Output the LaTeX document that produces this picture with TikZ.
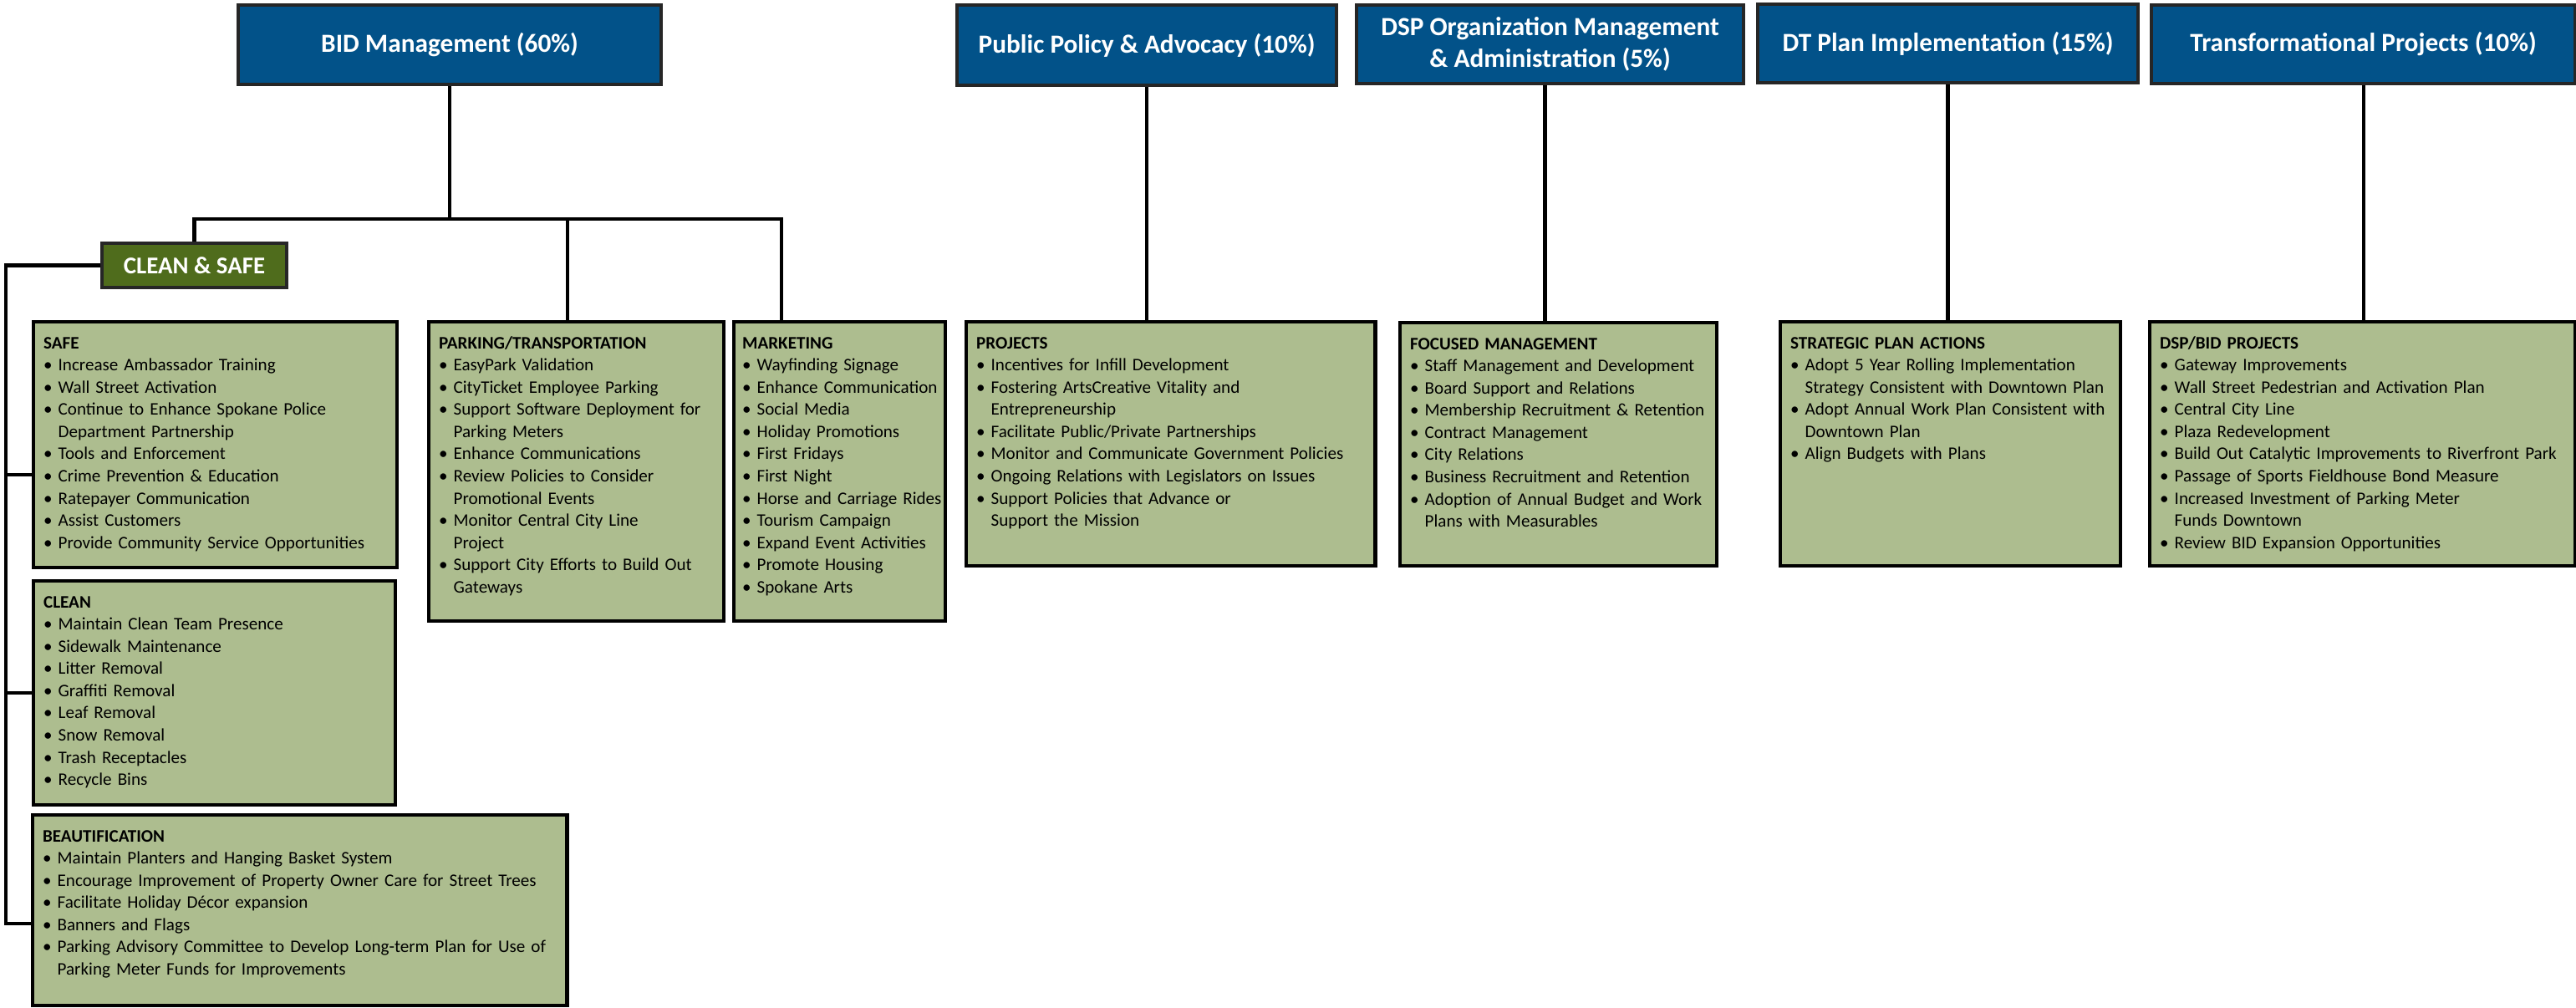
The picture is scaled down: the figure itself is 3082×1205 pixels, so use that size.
\documentclass[tikz,border=0pt]{standalone}
\usepackage{fontspec}
\setmainfont{Carlito}
\usepackage{xcolor}
\usepackage{tikz}

\definecolor{headblue}{RGB}{2,82,137}
\definecolor{cleangreen}{RGB}{79,108,28}
\definecolor{boxgreen}{RGB}{173,189,143}

\newcommand{\itm}[1]{\mbox{\textbullet\ #1}}
\newcommand{\cnt}[1]{\mbox{\phantom{\textbullet\ }#1}}

\tikzset{
  head/.style={draw=black!85, line width=1.1pt, fill=headblue, text=white, anchor=north west, align=center, inner sep=0pt, font=\fontsize{8.9}{10.6}\selectfont\bfseries},
  grp/.style={draw=black, line width=1.2pt, fill=boxgreen, anchor=north west, align=left, inner xsep=0.12cm, inner ysep=0pt, text height=0.32cm, font=\fontsize{6}{7.55}\selectfont},
  link/.style={line width=1.2pt},
}

\begin{document}
\begin{tikzpicture}[x=0.01cm, y=-0.01cm]
      \useasboundingbox (0,0) rectangle (3082,1205);

      % Top row
      \node[head, minimum width=5.06cm, minimum height=0.95cm] (bid) at (283,4) {BID Management (60\%)};
      \node[head, minimum width=4.54cm, minimum height=0.96cm] (policy) at (1143,4) {Public Policy \& Advocacy (10\%)};
      \node[head, minimum width=4.63cm, minimum height=0.94cm] (dspmgmt) at (1621,4) {DSP Organization Management\\\& Administration (5\%)};
      \node[head, minimum width=4.55cm, minimum height=0.94cm] (dtplan) at (2101,3) {DT Plan Implementation (15\%)};
      \node[head, minimum width=5.07cm, minimum height=0.94cm] (transf) at (2572,4) {Transformational Projects (10\%)};

      % Clean & Safe
      \node[draw=black!85, line width=1.1pt, fill=cleangreen, text=white, anchor=north west, inner sep=0pt, minimum width=2.21cm, minimum height=0.53cm, font=\fontsize{8.2}{9.8}\selectfont\bfseries] (cleansafe) at (120,289) {CLEAN \& SAFE};

      \node[grp, text width=4.11cm, text depth=2.62cm] (safe) at (38,383) {\textbf{SAFE}\\
        \itm{Increase Ambassador Training}\\
        \itm{Wall Street Activation}\\
        \itm{Continue to Enhance Spokane Police}\\
        \cnt{Department Partnership}\\
        \itm{Tools and Enforcement}\\
        \itm{Crime Prevention \& Education}\\
        \itm{Ratepayer Communication}\\
        \itm{Assist Customers}\\
        \itm{Provide Community Service Opportunities}};
      \node[grp, text width=4.09cm, text depth=2.36cm] (clean) at (38,693) {\textbf{CLEAN}\\
        \itm{Maintain Clean Team Presence}\\
        \itm{Sidewalk Maintenance}\\
        \itm{Litter Removal}\\
        \itm{Graffiti Removal}\\
        \itm{Leaf Removal}\\
        \itm{Snow Removal}\\
        \itm{Trash Receptacles}\\
        \itm{Recycle Bins}};
      \node[grp, text width=6.15cm, text depth=1.96cm] (beaut) at (37,973) {\textbf{BEAUTIFICATION}\\
        \itm{Maintain Planters and Hanging Basket System}\\
        \itm{Encourage Improvement of Property Owner Care for Street Trees}\\
        \itm{Facilitate Holiday Décor expansion}\\
        \itm{Banners and Flags}\\
        \itm{Parking Advisory Committee to Develop Long-term Plan for Use of}\\
        \cnt{Parking Meter Funds for Improvements}};

      % BID groups
      \node[grp, text width=3.29cm, text depth=3.26cm] (parking) at (511,383) {\textbf{PARKING/TRANSPORTATION}\\
        \itm{EasyPark Validation}\\
        \itm{CityTicket Employee Parking}\\
        \itm{Support Software Deployment for}\\
        \cnt{Parking Meters}\\
        \itm{Enhance Communications}\\
        \itm{Review Policies to Consider}\\
        \cnt{Promotional Events}\\
        \itm{Monitor Central City Line}\\
        \cnt{Project}\\
        \itm{Support City Efforts to Build Out}\\
        \cnt{Gateways}};
      \node[grp, inner xsep=0.1cm, text width=2.33cm, text depth=3.26cm] (marketing) at (876,383) {\textbf{MARKETING}\\
        \itm{Wayfinding Signage}\\
        \itm{Enhance Communication}\\
        \itm{Social Media}\\
        \itm{Holiday Promotions}\\
        \itm{First Fridays}\\
        \itm{First Night}\\
        \itm{Horse and Carriage Rides}\\
        \itm{Tourism Campaign}\\
        \itm{Expand Event Activities}\\
        \itm{Promote Housing}\\
        \itm{Spokane Arts}};

      % Other groups
      \node[grp, text width=4.65cm, text depth=2.60cm] (projects) at (1154,383) {\textbf{PROJECTS}\\
        \itm{Incentives for Infill Development}\\
        \itm{Fostering ArtsCreative Vitality and}\\
        \cnt{Entrepreneurship}\\
        \itm{Facilitate Public/Private Partnerships}\\
        \itm{Monitor and Communicate Government Policies}\\
        \itm{Ongoing Relations with Legislators on Issues}\\
        \itm{Support Policies that Advance or}\\
        \cnt{Support the Mission}};
      \node[grp, text width=3.55cm, text depth=2.59cm] (focused) at (1673,384) {\textbf{FOCUSED MANAGEMENT}\\
        \itm{Staff Management and Development}\\
        \itm{Board Support and Relations}\\
        \itm{Membership Recruitment \& Retention}\\
        \itm{Contract Management}\\
        \itm{City Relations}\\
        \itm{Business Recruitment and Retention}\\
        \itm{Adoption of Annual Budget and Work}\\
        \cnt{Plans with Measurables}};
      \node[grp, text width=3.83cm, text depth=2.60cm] (strategic) at (2128,383) {\textbf{STRATEGIC PLAN ACTIONS}\\
        \itm{Adopt 5 Year Rolling Implementation}\\
        \cnt{Strategy Consistent with Downtown Plan}\\
        \itm{Adopt Annual Work Plan Consistent with}\\
        \cnt{Downtown Plan}\\
        \itm{Align Budgets with Plans}};
      \node[grp, text width=4.85cm, text depth=2.60cm] (dspbid) at (2570,383) {\textbf{DSP/BID PROJECTS}\\
        \itm{Gateway Improvements}\\
        \itm{Wall Street Pedestrian and Activation Plan}\\
        \itm{Central City Line}\\
        \itm{Plaza Redevelopment}\\
        \itm{Build Out Catalytic Improvements to Riverfront Park}\\
        \itm{Passage of Sports Fieldhouse Bond Measure}\\
        \itm{Increased Investment of Parking Meter}\\
        \cnt{Funds Downtown}\\
        \itm{Review BID Expansion Opportunities}};

      % BID connectors
      \coordinate (busy) at (0,262);
      \coordinate (parkdrop) at ([xshift=1.68cm]parking.north west);
      \coordinate (mktdrop) at ([xshift=0.59cm]marketing.north west);
      \draw[link] (bid.south) -- (bid.south |- busy);
      \draw[link] (cleansafe.north) |- (mktdrop |- busy) -- (mktdrop);
      \draw[link] (parkdrop) -- (parkdrop |- busy);

      % Clean & Safe connectors
      \coordinate (trunk) at (7,0);
      \coordinate (safein) at ([yshift=-0.36cm]safe.west);
      \coordinate (beautin) at ([yshift=-0.16cm]beaut.west);
      \draw[link] (cleansafe.west) -| (trunk |- beautin) -- (beautin);
      \draw[link] (safein -| trunk) -- (safein);
      \draw[link] (clean.west -| trunk) -- (clean.west);

      % Straight drops
      \draw[link] (policy.south) -- (policy.south |- projects.north);
      \draw[link] ([xshift=-0.06cm]dspmgmt.south) -- ([xshift=-0.06cm]dspmgmt.south |- focused.north);
      \draw[link] (dtplan.south) -- (dtplan.south |- strategic.north);
      \draw[link] (transf.south) -- (transf.south |- dspbid.north);
    \end{tikzpicture}
\end{document}
